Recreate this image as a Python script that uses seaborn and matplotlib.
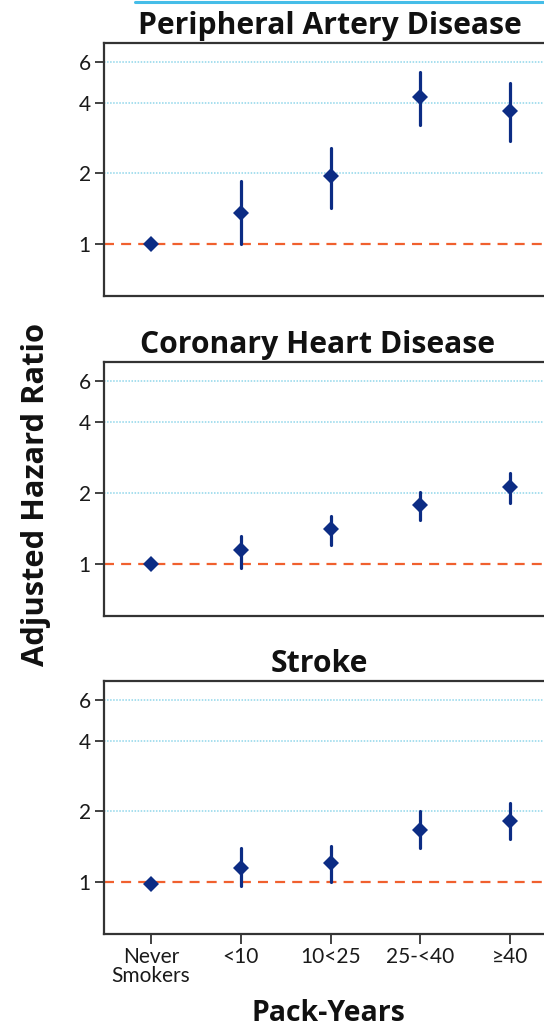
import matplotlib
matplotlib.use("Agg")
import matplotlib.pyplot as plt
import matplotlib.ticker as mticker
from matplotlib.lines import Line2D
import pandas as pd
import seaborn as sns

# pack-year groups on the x axis
categories = ["Never\nSmokers", "<10", "10<25", "25-<40", "≥40"]
panel_titles = ["Peripheral Artery Disease", "Coronary Heart Disease", "Stroke"]

# adjusted hazard ratios with 95% CI
pad_hr = [1.00, 1.35, 1.95, 4.23, 3.68]
pad_lo = [1.00, 1.00, 1.43, 3.22, 2.75]
pad_hi = [1.00, 1.85, 2.57, 5.40, 4.85]

chd_hr = [1.00, 1.14, 1.40, 1.77, 2.12]
chd_lo = [1.00, 0.955, 1.20, 1.53, 1.82]
chd_hi = [1.00, 1.31, 1.59, 2.01, 2.43]

stroke_hr = [0.98, 1.15, 1.20, 1.67, 1.82]
stroke_lo = [0.98, 0.96, 1.00, 1.39, 1.52]
stroke_hi = [0.98, 1.39, 1.43, 2.00, 2.18]

y_ticks = [1, 2, 4, 6]

sns.set_style("ticks")
plt.rcParams["font.family"] = ["Lato", "DejaVu Sans"]
BOLD = ["Open Sans", "DejaVu Sans"]

NAVY = "#0c2c84"
GRID = "#8fd6ea"
REF = "#f0602e"


def long_form(hr, lo, hi):
    # three rows per group: median = estimate, min/max = CI bounds
    rows = []
    for c, a, b, d in zip(categories, lo, hr, hi):
        for v in (a, b, d):
            rows.append({"group": c, "hr": v})
    return pd.DataFrame(rows)


panels = [
    (pad_hr, pad_lo, pad_hi),
    (chd_hr, chd_lo, chd_hi),
    (stroke_hr, stroke_lo, stroke_hi),
]

fig = plt.figure(figsize=(5.44, 10.29), dpi=100)

W, H = 544.0, 1029.0
left_px, right_px = 104, 557
boxes = [(43, 296), (362, 616), (681, 934)]
title_pos = [(0.075, "left"), (0.472, "center"), (0.475, "center")]

for i, ((hr, lo, hi), (top, bot)) in enumerate(zip(panels, boxes)):
    ax = fig.add_axes([left_px / W, 1 - bot / H, (right_px - left_px) / W, (bot - top) / H])
    df = long_form(hr, lo, hi)

    for g in (2, 4, 6):
        ax.axhline(g, color=GRID, lw=1.1, ls=(0, (1, 1)), zorder=0)
    ax.axhline(1, color=REF, lw=1.6, ls=(0, (4.5, 3.2)), zorder=1)

    sns.pointplot(data=df, x="group", y="hr", order=categories,
                  estimator="median", errorbar=("pi", 100),
                  color=NAVY, markers="D", linestyle="none",
                  markersize=8.5, markeredgewidth=0,
                  err_kws={"linewidth": 2.3}, capsize=0, ax=ax)

    ax.set_yscale("log")
    ax.set_ylim(0.6, 7.2)
    ax.set_xlim(-0.525, 4.525)
    ax.yaxis.set_major_locator(mticker.FixedLocator(y_ticks))
    ax.yaxis.set_minor_locator(mticker.NullLocator())
    ax.set_yticklabels([str(t) for t in y_ticks])
    ax.set_xlabel("")
    ax.set_ylabel("")

    for s in ax.spines.values():
        s.set_color("#333333")
        s.set_linewidth(1.6)

    ax.tick_params(axis="y", length=6.5, width=1.3, pad=3, labelsize=15,
                   color="#333333", labelcolor="#1a1a1a")
    if i < 2:
        ax.tick_params(axis="x", bottom=False, labelbottom=False)
    else:
        ax.tick_params(axis="x", length=7.5, width=1.3, pad=2, labelsize=15,
                       color="#333333", labelcolor="#1a1a1a")
        for lab in ax.get_xticklabels():
            lab.set_linespacing(0.95)

    tx, ha = title_pos[i]
    ax.text(tx, 1.0 + 9 / (bot - top), panel_titles[i], transform=ax.transAxes,
            ha=ha, va="baseline", fontsize=21.7, fontweight="bold",
            family=BOLD, color="#111111")

fig.text(36 / W, 1 - 494 / H, "Adjusted Hazard Ratio", rotation=90,
         ha="center", va="center", fontsize=22.2, fontweight="bold",
         family=BOLD, color="#111111")
fig.text(328 / W, 1 - 1021 / H, "Pack-Years", ha="center", va="baseline",
         fontsize=20.4, fontweight="bold", family=BOLD, color="#111111")

# thin banner rule along the top edge
fig.add_artist(Line2D([135 / W, 1.0], [1 - 1.5 / H, 1 - 1.5 / H],
                      transform=fig.transFigure, color="#45bde8", lw=2.2))

fig.savefig("out.png", dpi=100)
